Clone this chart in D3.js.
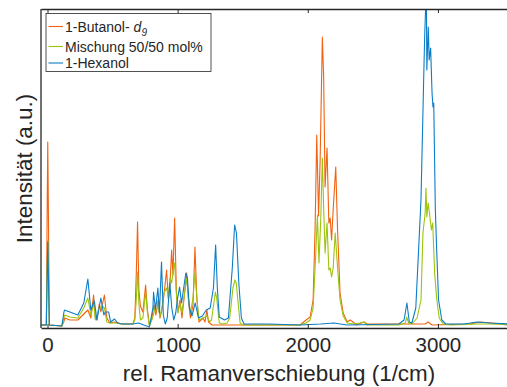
<!DOCTYPE html>
<html>
<head>
<meta charset="utf-8">
<script src="https://cdn.jsdelivr.net/npm/d3@7"></script>
<style>
  body { margin: 0; background: #fff; }
  text { font-family: "Liberation Sans", Arial, Helvetica, sans-serif; fill: #262626; }
</style>
</head>
<body>
<div id="wrapper"></div>
<script>
// Raman-Spektren, Werte (Intensität in willkürlichen Einheiten)
const xTicks = [0, 1000, 2000, 3000];
const seriesNames = ["1-Butanol-", "Mischung 50/50 mol%", "1-Hexanol"];
const seriesColors = ["#F2620F", "#9DC40C", "#0C7DC8"];

const butanolX = [-48, -9, -2, 2, 8, 14, 110, 125, 133, 172, 233, 279, 310, 333, 354, 368, 379, 398, 410, 437, 456, 479, 518, 572, 656, 671, 683, 692, 702, 714, 733, 754, 768, 783, 802, 818, 833, 852, 864, 879, 895, 915, 929, 941, 954, 964, 977, 990, 1002, 1018, 1033, 1048, 1069, 1083, 1098, 1118, 1133, 1148, 1164, 1195, 1210, 1225, 1237, 1264, 1941, 1987, 2018, 2041, 2056, 2069, 2083, 2095, 2112, 2122, 2133, 2148, 2162, 2172, 2183, 2195, 2215, 2229, 2248, 2272, 2303, 2325, 2348, 2372, 2433, 2456, 2902, 2925, 2955, 3248, 3325, 3417, 3532, 3710];
const butanolY = [3, 3, 128, 186, 98, 3, 2, 6, 10, 8, 8, 14, 18, 10, 33, 10, 8, 24, 16, 33, 10, 5, 6, 4, 4, 10, 58, 106, 38, 22, 16, 43, 18, 3, 10, 23, 13, 28, 10, 18, 33, 58, 28, 43, 78, 53, 110, 38, 16, 28, 10, 28, 55, 28, 10, 23, 81, 28, 6, 10, 6, 18, 6, 3, 3, 8, 11, 28, 98, 193, 112, 168, 291, 251, 141, 180, 105, 110, 88, 118, 161, 98, 35, 15, 6, 8, 6, 3, 6, 4, 4, 6, 3, 4, 6, 5, 3, 3];

const mischungX = [-48, -9, -2, 2, 8, 14, 110, 125, 133, 172, 233, 279, 310, 333, 354, 368, 379, 395, 420, 437, 456, 479, 518, 572, 656, 671, 683, 692, 702, 714, 733, 754, 768, 783, 802, 818, 840, 852, 864, 879, 895, 915, 929, 941, 954, 964, 977, 990, 1002, 1018, 1033, 1048, 1069, 1083, 1098, 1118, 1133, 1148, 1164, 1195, 1225, 1245, 1260, 1290, 1300, 1320, 1345, 1380, 1400, 1425, 1440, 1450, 1465, 1480, 1500, 1941, 1987, 2018, 2041, 2060, 2074, 2086, 2100, 2112, 2122, 2133, 2148, 2162, 2172, 2183, 2195, 2211, 2229, 2248, 2272, 2303, 2350, 2400, 2433, 2456, 2700, 2750, 2760, 2775, 2800, 2840, 2870, 2885, 2902, 2908, 2915, 2925, 2935, 2950, 2960, 2975, 2990, 3010, 3040, 3100, 3300, 3400, 3710];
const mischungY = [3, 3, 60, 88, 50, 3, 2, 10, 13, 11, 10, 20, 30, 13, 25, 8, 10, 20, 22, 20, 6, 5, 5, 4, 4, 8, 30, 56, 25, 8, 10, 36, 15, 2, 8, 15, 28, 20, 12, 20, 35, 40, 30, 50, 45, 55, 65, 35, 15, 25, 15, 30, 50, 30, 15, 30, 55, 30, 8, 10, 12, 6, 8, 36, 30, 5, 4, 5, 10, 40, 48, 45, 25, 5, 3, 3, 5, 8, 20, 70, 113, 65, 110, 170, 120, 75, 105, 58, 60, 51, 60, 95, 60, 28, 12, 5, 4, 5, 6, 3, 3, 5, 11, 5, 4, 10, 28, 95, 115, 140, 111, 125, 115, 98, 105, 55, 30, 10, 4, 3, 4, 4, 3];

const hexanolX = [-48, -9, -2, 2, 8, 14, 110, 125, 130, 172, 233, 260, 279, 310, 333, 360, 380, 410, 433, 445, 470, 485, 515, 540, 572, 656, 700, 740, 783, 810, 815, 830, 848, 860, 876, 890, 905, 920, 940, 955, 970, 985, 1000, 1015, 1030, 1063, 1075, 1090, 1110, 1135, 1160, 1190, 1220, 1250, 1275, 1292, 1305, 1320, 1360, 1390, 1420, 1438, 1452, 1470, 1490, 1510, 1700, 1941, 2100, 2200, 2300, 2700, 2740, 2762, 2780, 2800, 2830, 2870, 2890, 2898, 2905, 2912, 2915, 2926, 2933, 2944, 2955, 2962, 2968, 2980, 2990, 3005, 3030, 3060, 3200, 3300, 3400, 3710];
const hexanolY = [3, 3, 55, 86, 45, 3, 2, 15, 18, 16, 13, 20, 25, 49, 18, 27, 8, 30, 13, 16, 16, 6, 9, 5, 4, 4, 5, 3, 1, 20, 36, 18, 40, 15, 66, 13, 4, 10, 45, 20, 8, 15, 30, 41, 25, 55, 50, 20, 12, 25, 10, 12, 18, 20, 40, 83, 40, 11, 8, 10, 60, 103, 95, 45, 10, 4, 4, 3, 4, 5, 3, 4, 8, 25, 6, 5, 20, 128, 245, 290, 318, 318, 258, 301, 268, 280, 235, 221, 225, 120, 80, 28, 8, 4, 4, 6, 5, 3];

const allX = [butanolX, mischungX, hexanolX];
const allY = [butanolY, mischungY, hexanolY];

const dimensions = {
  width: 507,
  height: 387,
  margin: { top: 9, left: 41, bottom: 59, right: -22 }
};
dimensions.boundedWidth = dimensions.width - dimensions.margin.left - dimensions.margin.right;
dimensions.boundedHeight = dimensions.height - dimensions.margin.top - dimensions.margin.bottom;

const svg = d3.select("#wrapper").append("svg")
  .attr("width", dimensions.width)
  .attr("height", dimensions.height);

const container = svg.append("g")
  .attr("transform", `translate(${dimensions.margin.left},${dimensions.margin.top})`);

const xScale = d3.scaleLinear()
  .domain([-50, 3700])
  .range([0, dimensions.boundedWidth]);

const yScale = d3.scaleLinear()
  .domain([0, 319])
  .range([dimensions.boundedHeight, 0]);

svg.append("defs").append("clipPath").attr("id", "plotclip")
  .append("rect")
  .attr("width", dimensions.boundedWidth)
  .attr("height", dimensions.boundedHeight);

const lineGen = d3.line()
  .x(d => xScale(d[0]))
  .y(d => yScale(d[1]));

const plot = container.append("g").attr("clip-path", "url(#plotclip)");
allX.forEach((xs, i) => {
  const pts = xs.map((x, j) => [x, allY[i][j]]);
  plot.append("path")
    .datum(pts)
    .attr("fill", "none")
    .attr("stroke", seriesColors[i])
    .attr("stroke-width", 1.1)
    .attr("stroke-linejoin", "round")
    .attr("d", lineGen);
});

// axes box
const xAxisGen = d3.axisBottom(xScale).tickValues(xTicks).tickFormat(d3.format("d"))
  .tickSizeInner(-4).tickSizeOuter(0).tickPadding(9);
const axisX = container.append("g")
  .attr("transform", `translate(0,${dimensions.boundedHeight})`)
  .call(xAxisGen);
axisX.select(".domain").attr("stroke", "#262626").attr("stroke-width", 1.3);
axisX.selectAll(".tick line").attr("stroke", "#262626");
axisX.selectAll(".tick text")
  .attr("font-size", 20.5)
  .attr("font-family", "Liberation Sans, Arial, sans-serif")
  .attr("fill", "#262626");

const topAxis = container.append("g")
  .call(d3.axisTop(xScale).tickValues(xTicks).tickSizeInner(-4).tickSizeOuter(0).tickFormat(""));
topAxis.select(".domain").attr("stroke", "#262626").attr("stroke-width", 1.3);
topAxis.selectAll(".tick line").attr("stroke", "#262626");

container.append("line")
  .attr("x1", 0).attr("x2", 0)
  .attr("y1", 0).attr("y2", dimensions.boundedHeight)
  .attr("stroke", "#262626").attr("stroke-width", 1.3);

// axis labels
svg.append("text")
  .attr("x", 279)
  .attr("y", 381)
  .attr("text-anchor", "middle")
  .attr("font-size", 22.4)
  .text("rel. Ramanverschiebung (1/cm)");

svg.append("text")
  .attr("transform", `translate(32,${dimensions.margin.top + dimensions.boundedHeight / 2}) rotate(-90)`)
  .attr("text-anchor", "middle")
  .attr("font-size", 22.4)
  .text("Intensität (a.u.)");

// legend
const legend = svg.append("g").attr("transform", "translate(46,13.5)");
legend.append("rect")
  .attr("width", 165)
  .attr("height", 58)
  .attr("fill", "#fff")
  .attr("stroke", "#262626")
  .attr("stroke-width", 0.8);

const rowY = [13, 33, 49.5];
seriesNames.forEach((name, i) => {
  legend.append("line")
    .attr("x1", 2.5).attr("x2", 17)
    .attr("y1", rowY[i]).attr("y2", rowY[i])
    .attr("stroke", seriesColors[i])
    .attr("stroke-width", 1.1);
  const t = legend.append("text")
    .attr("x", 19)
    .attr("y", rowY[i] + 5)
    .attr("font-size", 14)
    .text(name);
  if (i === 0) {
    t.append("tspan").attr("dx", 4).attr("font-style", "italic").text("d");
    t.append("tspan").attr("font-style", "italic").attr("font-size", 10).attr("dy", 4).text("9");
  }
});
</script>
</body>
</html>
